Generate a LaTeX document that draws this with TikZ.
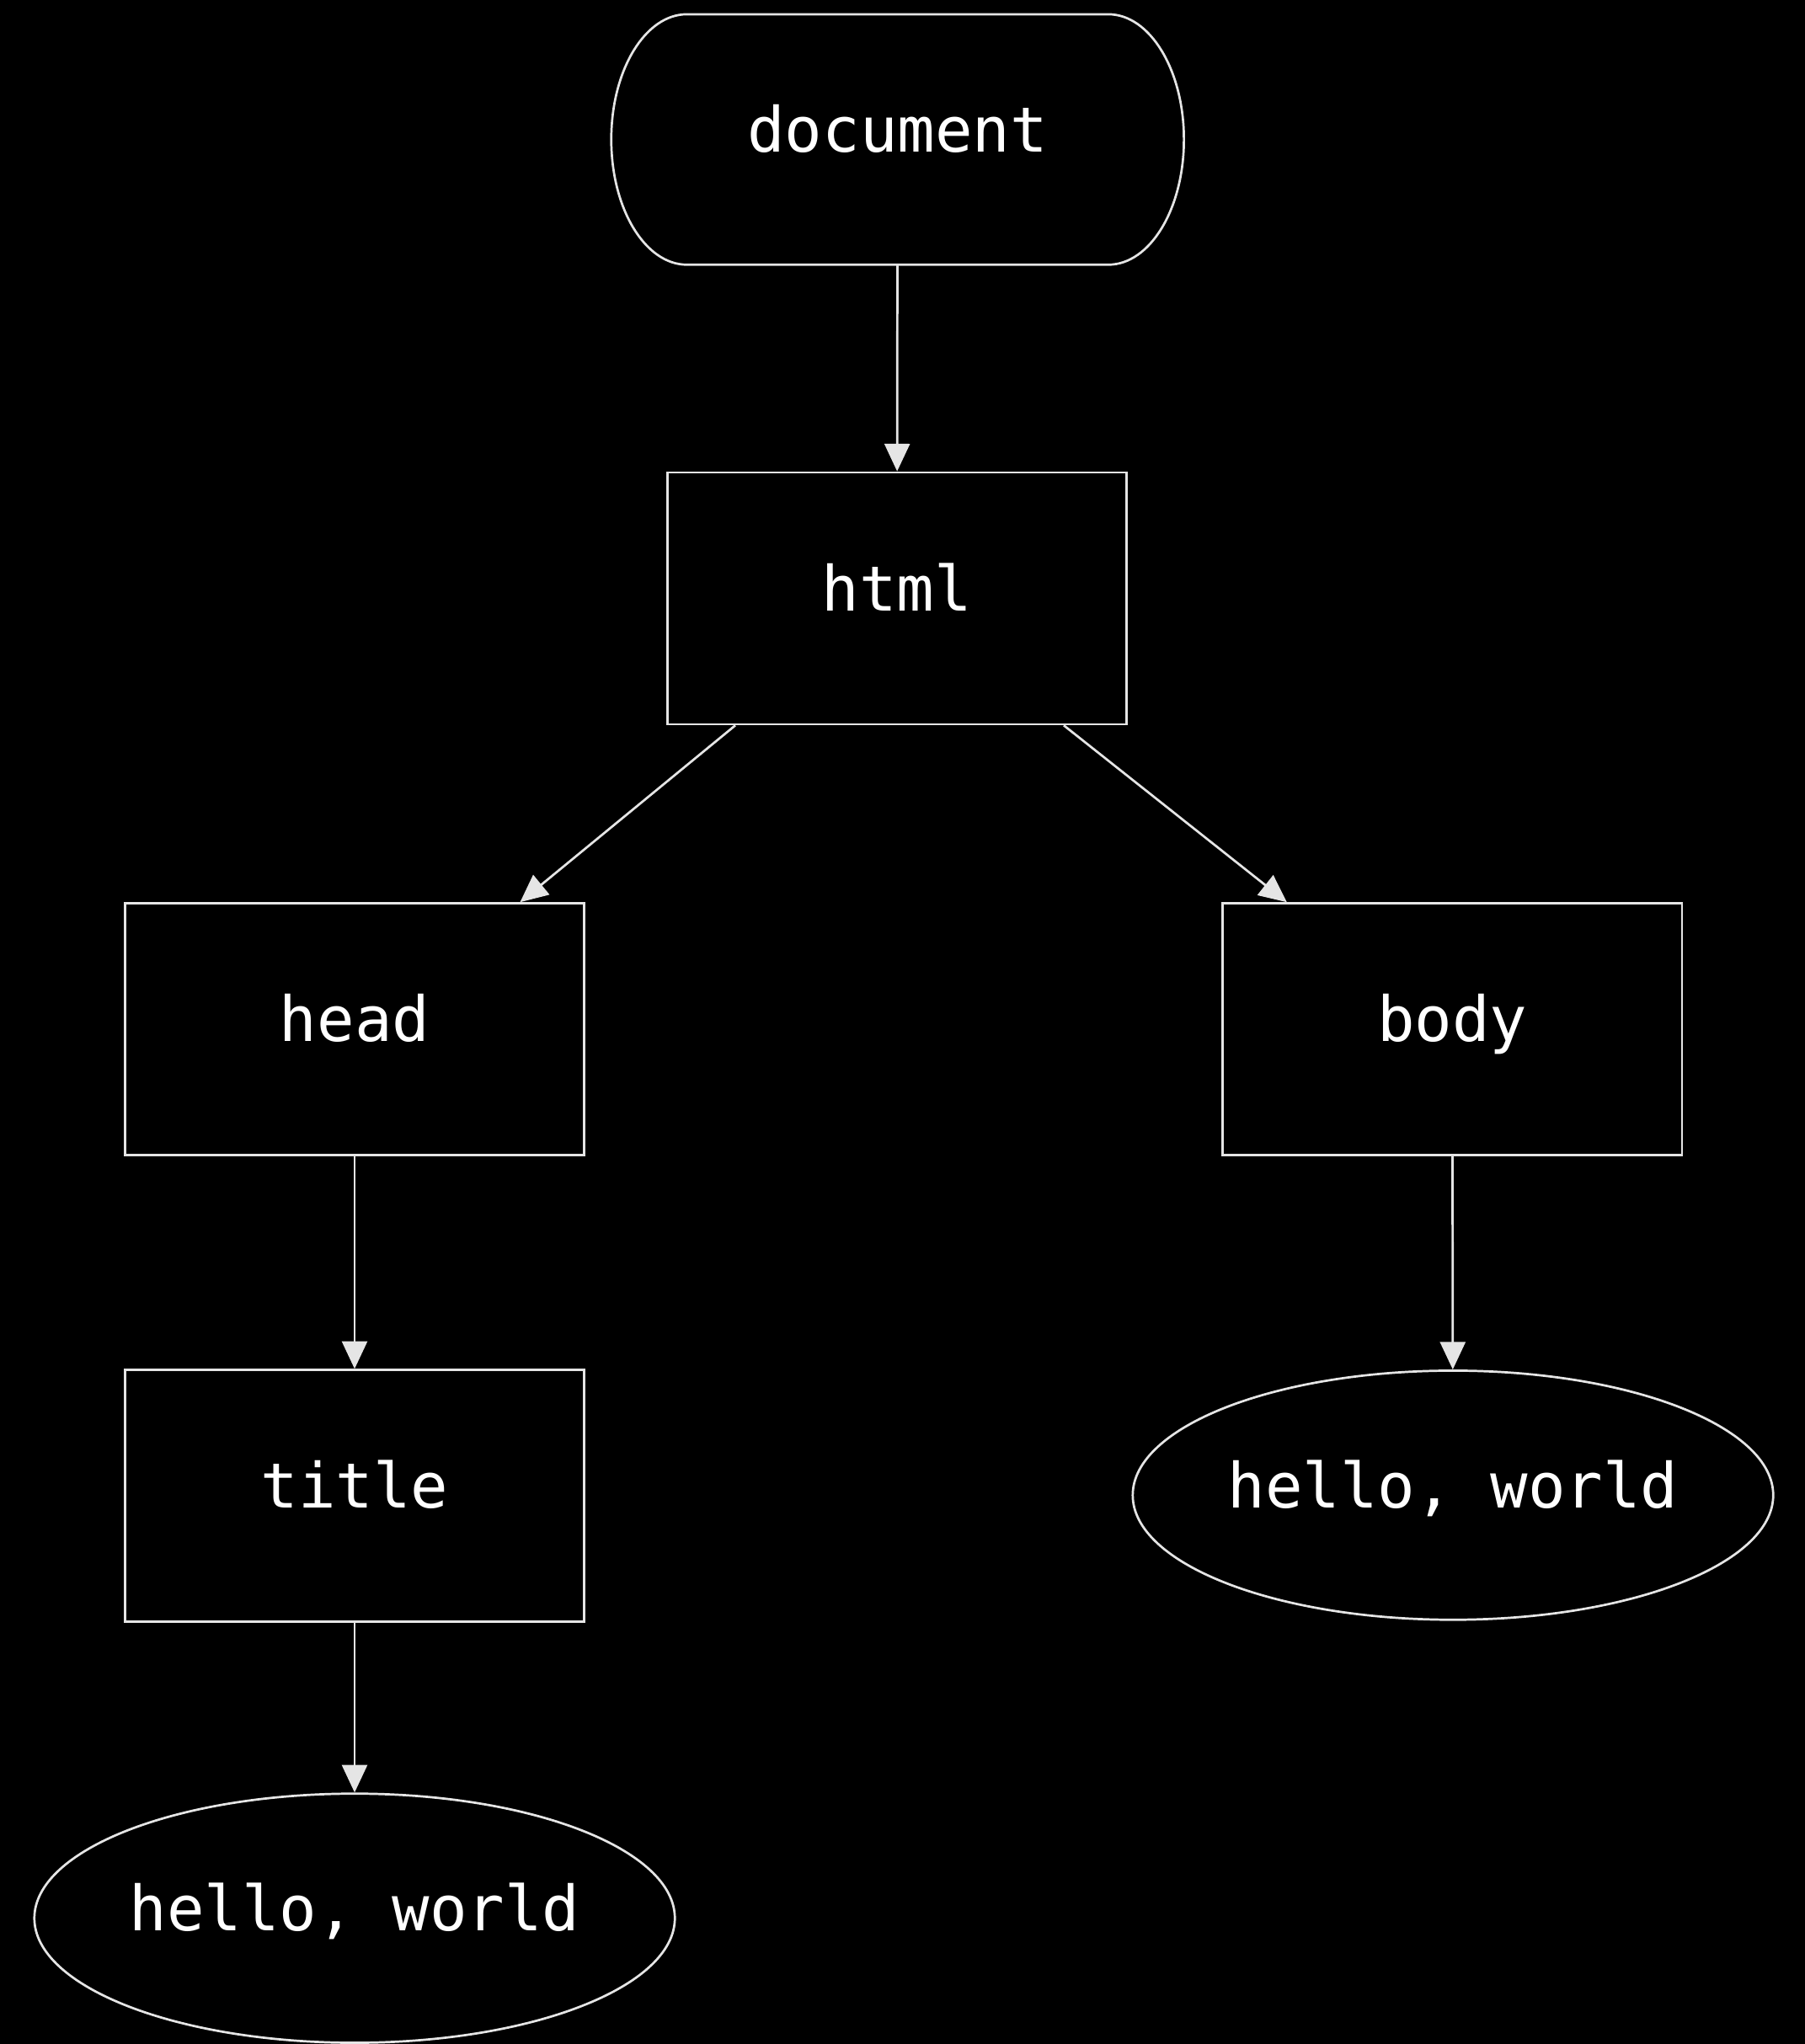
\documentclass[tikz,border=0pt]{standalone}
\usepackage{fontspec}
\setmonofont{DejaVu Sans Mono}
\usepackage{tikz}
\usetikzlibrary{positioning,arrows.meta,shapes.geometric}

\tikzset{
  box/.style={draw, minimum width=3.52cm, minimum height=1.93cm},
  leaf/.style={draw, ellipse, minimum width=4.91cm, minimum height=1.91cm},
}

\begin{document}
\begin{tikzpicture}[x=0.01cm, y=0.01cm, line width=0.5pt, color=white!90!black,
    >={Triangle[length=6pt,width=5.5pt]},
    every node/.style={text=white, inner sep=0pt, font=\ttfamily\fontsize{13.6}{16}\selectfont, text height=0.8em, text depth=0.26em}]
  \useasboundingbox (0, 0) rectangle (1384, 1568);
  \fill[black] (-10, -10) rectangle (1394, 1578);

  \node (1) [outer sep=0pt, minimum width=4.39cm, minimum height=1.92cm] at (688.5, 1461) {document};
  \node (2) [box] at (688, 1109) {html};
  \node (3) [box] at (272, 778.5) {head};
  \node (4) [box] at (1114, 778.5) {body};
  \node (5) [box] at (272, 420.5) {title};
  \node (6) [leaf] at (1114.5, 421) {hello, world};
  \node (7) [leaf] at (272, 96.5) {hello, world};

  \draw ([xshift=0.58cm]1.north west) -- ([xshift=-0.58cm]1.north east)
    arc[start angle=90, end angle=-90, x radius=0.58cm, y radius=0.96cm]
    -- ([xshift=0.58cm]1.south west)
    arc[start angle=270, end angle=90, x radius=0.58cm, y radius=0.96cm] -- cycle;

  \draw[->] (1) -- (2);
  \draw[->] ([xshift=0.53cm]2.south west) -- ([xshift=-0.5cm]3.north east);
  \draw[->] ([xshift=-0.49cm]2.south east) -- ([xshift=0.5cm]4.north west);
  \draw[->] (3) -- (5);
  \draw[->] (4) -- (6);
  \draw[->] (5) -- (7);
\end{tikzpicture}
\end{document}
